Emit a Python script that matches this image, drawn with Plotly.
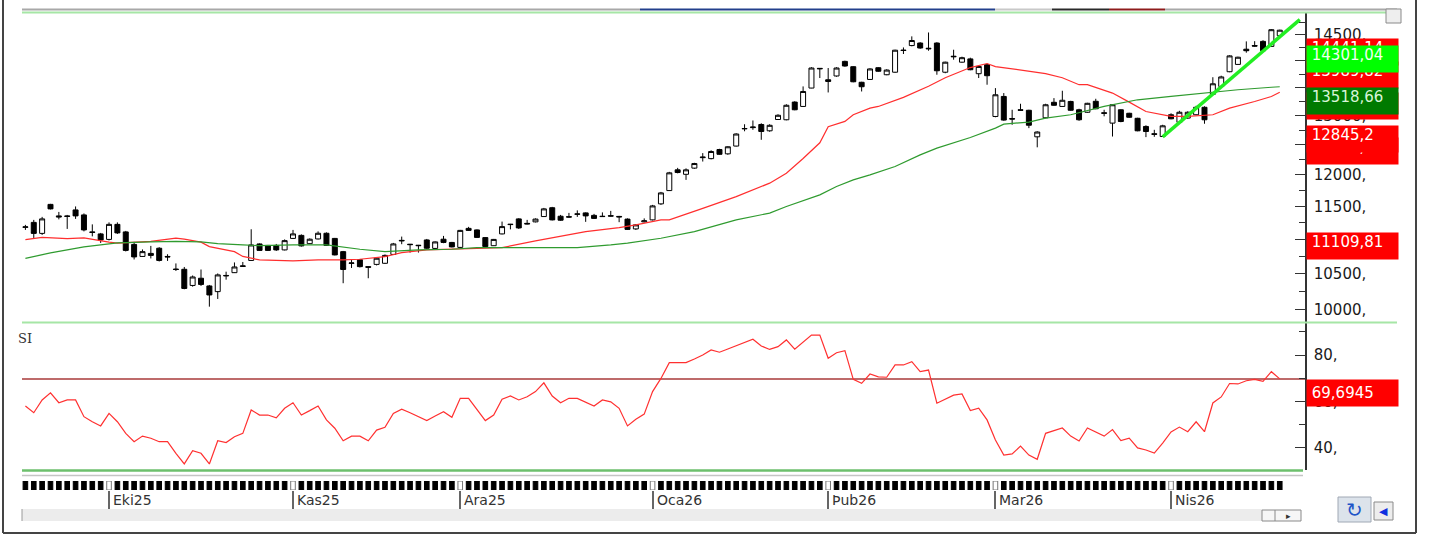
import math
import plotly.graph_objects as go

# ---------------- data ----------------
N = 151
days = list(range(N))

open_ = [11180, 11256, 11090, 11533, 11355, 11355, 11447, 11370, 11112, 11082,
         11000, 11226, 11112, 10926, 10750, 10794, 10870, 10750, 10569, 10565,
         10337, 10438, 10330, 10251, 10470, 10517, 10605, 10692, 10933, 10911,
         10911, 10845, 11015, 11060, 10937, 11007, 11092, 11015, 10820, 10649,
         10703, 10603, 10635, 10651, 10779, 10977, 10929, 10914, 10992, 10867,
         11003, 10955, 10882, 11165, 11142, 11027, 10907, 11082, 11229, 11309,
         11241, 11264, 11345, 11481, 11350, 11343, 11386, 11401, 11363, 11350,
         11358, 11347, 11306, 11157, 11264, 11294, 11541, 11750, 12084, 12011,
         12112, 12284, 12268, 12420, 12348, 12478, 12772, 12793, 12847, 12738,
         12934, 12929, 13242, 13164, 13495, 13859, 13647, 13717, 13990, 13890,
         13601, 13653, 13871, 13740, 13787, 14206, 14292, 14341, 14241, 14341,
         13787, 14088, 13975, 14037, 13759, 13927, 12987, 13343, 12950, 13105,
         13096, 12635, 12964, 13238, 13164, 13253, 13105, 13061, 13256, 13052,
         12871, 13105, 13043, 12955, 12813, 12687, 12640, 13017, 12886, 12959,
         13017, 13149, 13382, 13525, 13796, 13933, 14222, 14292, 14373, 14276,
         14484]
high = [11218, 11294, 11340, 11541, 11416, 11370, 11501, 11393, 11226, 11097,
        11256, 11256, 11127, 10963, 10852, 10904, 10885, 10782, 10649, 10598,
        10477, 10562, 10344, 10506, 10531, 10663, 10670, 11152, 10941, 10918,
        10933, 11000, 11142, 11075, 11015, 11120, 11105, 11022, 10830, 10699,
        10714, 10605, 10736, 10779, 10948, 11042, 10933, 10918, 11007, 10970,
        11052, 10963, 11142, 11188, 11150, 11030, 11007, 11268, 11233, 11320,
        11294, 11317, 11478, 11494, 11370, 11401, 11440, 11409, 11386, 11409,
        11432, 11355, 11317, 11226, 11317, 11525, 11729, 12051, 12116, 12108,
        12199, 12360, 12407, 12432, 12474, 12695, 12851, 12917, 12868, 12851,
        13026, 13203, 13256, 13525, 13880, 13865, 13865, 13880, 14003, 13899,
        13610, 13861, 13880, 13842, 14212, 14256, 14471, 14357, 14547, 14357,
        13984, 14212, 14079, 14060, 13908, 13946, 13494, 13404, 13105, 13212,
        13105, 12730, 13212, 13313, 13446, 13265, 13123, 13229, 13301, 13105,
        13203, 13114, 13052, 12964, 12833, 12755, 12842, 13043, 13087, 13078,
        13176, 13167, 13694, 13722, 14107, 14079, 14373, 14377, 14396, 14612,
        14602]
low = [11142, 11022, 11067, 11455, 11302, 11157, 11309, 11120, 11045, 10948,
       10985, 11082, 10823, 10706, 10743, 10721, 10677, 10685, 10541, 10284,
       10320, 10330, 10045, 10150, 10418, 10513, 10598, 10685, 10830, 10830,
       10830, 10838, 11007, 10894, 10933, 11000, 10904, 10765, 10368, 10584,
       10591, 10438, 10620, 10642, 10772, 10929, 10806, 10806, 10860, 10860,
       10944, 10882, 10874, 11127, 11022, 10889, 10904, 11075, 11150, 11157,
       11226, 11256, 11340, 11286, 11279, 11332, 11340, 11264, 11309, 11343,
       11347, 11259, 11142, 11142, 11256, 11286, 11525, 11745, 12027, 11921,
       12100, 12220, 12256, 12332, 12332, 12471, 12730, 12755, 12584, 12721,
       12929, 12920, 13096, 13158, 13492, 13679, 13415, 13703, 13890, 13601,
       13433, 13647, 13796, 13731, 13777, 14130, 14278, 14231, 14193, 13740,
       13768, 14022, 13965, 13824, 13679, 13556, 12973, 12912, 12842, 13087,
       12784, 12457, 12955, 13176, 13158, 13087, 12912, 13052, 13114, 12990,
       12640, 12886, 12964, 12730, 12630, 12635, 12635, 12938, 12877, 12946,
       13008, 12860, 13373, 13510, 13787, 13927, 14155, 14270, 14184, 14270,
       14474]
close = [11188, 11090, 11309, 11463, 11340, 11347, 11355, 11142, 11105, 10992,
         11226, 11097, 10838, 10743, 10820, 10765, 10692, 10743, 10562, 10295,
         10456, 10351, 10205, 10485, 10477, 10598, 10613, 10918, 10838, 10838,
         10845, 10982, 11082, 10904, 11003, 11092, 10911, 10772, 10562, 10656,
         10603, 10594, 10724, 10765, 10933, 10985, 10923, 10908, 10870, 10963,
         10955, 10889, 11135, 11135, 11030, 10894, 11000, 11192, 11223, 11172,
         11233, 11306, 11463, 11294, 11289, 11337, 11381, 11355, 11317, 11345,
         11352, 11340, 11150, 11218, 11279, 11509, 11713, 12035, 12040, 12084,
         12187, 12293, 12387, 12340, 12466, 12683, 12777, 12802, 12726, 12833,
         13008, 13185, 13105, 13433, 13865, 13852, 13616, 13865, 13903, 13610,
         13519, 13848, 13805, 13827, 14203, 14197, 14390, 14245, 14231, 13814,
         13975, 14079, 14060, 13833, 13895, 13722, 13373, 12924, 12942, 13096,
         12834, 12717, 13194, 13185, 13274, 13096, 12929, 13220, 13123, 13043,
         13194, 12899, 12973, 12738, 12726, 12678, 12824, 12946, 13061, 13061,
         13149, 12929, 13573, 13699, 14094, 14069, 14193, 14282, 14193, 14602,
         14592]

rsi = [58.0, 55.1, 60.6, 63.7, 59.4, 60.6, 60.6, 53.4, 51.2, 49.4,
       54.8, 51.2, 46.2, 42.6, 45.0, 44.1, 42.6, 42.6, 37.6, 33.0,
       38.7, 37.6, 33.0, 43.0, 42.2, 44.7, 46.2, 56.3, 54.1, 54.1,
       52.9, 57.0, 59.4, 54.1, 56.0, 58.0, 52.0, 48.4, 43.0, 45.0,
       45.0, 43.0, 47.6, 48.8, 54.8, 56.6, 55.1, 53.4, 51.7, 53.7,
       55.5, 53.1, 61.3, 61.3, 56.6, 51.7, 54.1, 60.9, 62.3, 60.6,
       62.0, 64.2, 68.0, 62.3, 59.4, 61.3, 61.3, 59.8, 58.0, 60.6,
       59.8, 57.0, 49.4, 52.3, 54.5, 64.2, 69.9, 76.7, 76.7, 76.7,
       78.3, 80.0, 82.2, 81.2, 82.6, 84.1, 85.6, 86.8, 83.9, 82.4,
       83.6, 86.5, 82.5, 85.6, 88.6, 88.6, 78.6, 81.0, 81.9, 69.5,
       67.8, 71.8, 70.6, 70.4, 75.7, 75.7, 77.1, 72.8, 73.5, 59.2,
       61.0, 62.7, 63.2, 56.0, 57.1, 52.0, 43.3, 36.8, 37.3, 40.7,
       36.8, 35.0, 46.2, 47.3, 48.5, 45.0, 42.9, 48.5, 46.9, 45.0,
       47.8, 43.1, 44.1, 39.9, 39.0, 37.7, 42.0, 46.8, 48.9, 46.9,
       51.2, 46.9, 59.3, 61.9, 67.7, 67.5, 68.9, 69.5, 68.6, 72.8,
       69.6945]

ma_red_idx = [0, 2, 5, 7, 10, 11, 15, 18, 19, 21, 22, 25, 26, 28, 32, 35, 38, 40, 43, 45,
              48, 50, 54, 57, 61, 66, 67, 71, 73, 76, 77, 81, 85, 89, 91, 93, 95, 96, 98, 99,
              101, 102, 105, 108, 110, 113, 115, 116, 120, 122, 124, 126, 127, 130, 132, 134,
              137, 139, 142, 144, 147, 149, 150]
ma_red_val = [10996, 11030, 11011, 11022, 10959, 10944, 10970, 11020, 11003, 10959,
              10894, 10820, 10750, 10699, 10685, 10699, 10699, 10709, 10747, 10806,
              10845, 10855, 10867, 10879, 10977, 11092, 11117, 11177, 11218, 11294,
              11294, 11472, 11655, 11868, 12030, 12270, 12533, 12808, 12900, 13017,
              13135, 13164, 13326, 13528, 13684, 13874, 13950, 13893, 13810, 13761,
              13684, 13556, 13556, 13404, 13241, 13075, 12990, 12990, 13017, 13135,
              13253, 13343, 13420]

ma_green_idx = [0, 3, 7, 11, 15, 18, 21, 23, 26, 28, 32, 36, 40, 43, 47, 51, 54, 58, 62, 66,
                70, 72, 76, 80, 85, 89, 91, 95, 97, 99, 101, 104, 107, 109, 113, 116, 117,
                120, 122, 125, 129, 133, 137, 141, 145, 149, 150]
ma_green_val = [10723, 10801, 10889, 10948, 10963, 10970, 10963, 10937, 10918, 10908,
                10918, 10918, 10855, 10820, 10845, 10855, 10879, 10879, 10879, 10879,
                10918, 10944, 11017, 11117, 11294, 11398, 11500, 11682, 11814, 11921,
                12003, 12138, 12331, 12443, 12623, 12784, 12854, 12889, 12959, 13017,
                13164, 13283, 13343, 13404, 13464, 13510, 13519]

levels = [14441.14, 13989.82, 12845.2, 12632.9, 11109.81]
trend_idx = [136, 152.4]
trend_val = [12632.9, 14801]

# right-hand value tags (value, text, background, text colour), drawn in this order
price_tags = [
    (12632.9, "12632,9", "#FF0000", "#FFFFFF"),
    (12845.2, "12845,2", "#FF0000", "#FFFFFF"),
    (14441.14, "14441,14", "#FF0000", "#FFFFFF"),
    (13989.82, "13989,82", "#FF0000", "#FFFFFF"),
    (13422.35, "13422,35", "#FF0000", "#FFFFFF"),
    (14301.04, "14301,04", "#00FF00", "#F2FFF2"),
    (13518.66, "13518,66", "#007A00", "#D8F5D8"),
    (11109.81, "11109,81", "#FF0000", "#FFFFFF"),
]
rsi_level = 69.6945
rsi_tag = "69,6945"

month_idx = [10, 32, 52, 75, 96, 116, 137]
month_lbl = ["Eki25", "Kas25", "Ara25", "Oca26", "Þub26", "Mar26", "Nis26"]

price_ticks = [10000, 10500, 11000, 11500, 12000, 12500, 13000, 13500, 14000, 14500, 15000]
price_minor = [10250, 10750, 11250, 11750, 12250, 12750, 13250, 13750, 14250, 14750]
rsi_ticks = [40, 60, 80]
rsi_minor = [50, 70, 90]

# ---------------- layout helpers (pixel -> paper) ----------------
W, H = 1432, 537
PL, PR, PT, PB = 22, 1305, 12, 490


def fx(px):
    return (px - PL) / (PR - PL)


def fy(py):
    return (PB - py) / (PB - PT)


xr = [-0.407, 153.02]
price_range = [math.log10(9839), math.log10(14955)]
rsi_range = [30.38, 93.81]
FONT = "DejaVu Sans"
NB = "\u00a0"

fig = go.Figure()

fig.add_trace(go.Scatter(x=ma_red_idx, y=ma_red_val, mode="lines",
                         line=dict(color="#FF2E2E", width=1.2), xaxis="x", yaxis="y"))
fig.add_trace(go.Scatter(x=ma_green_idx, y=ma_green_val, mode="lines",
                         line=dict(color="#2F9B2F", width=1.2), xaxis="x", yaxis="y"))
fig.add_trace(go.Candlestick(
    x=days, open=open_, high=high, low=low, close=close,
    increasing=dict(line=dict(color="black", width=1), fillcolor="white"),
    decreasing=dict(line=dict(color="black", width=1), fillcolor="black"),
    whiskerwidth=0, xaxis="x", yaxis="y"))
fig.add_trace(go.Scatter(x=trend_idx, y=trend_val, mode="lines",
                         line=dict(color="#22EE22", width=3.5), xaxis="x", yaxis="y"))
fig.add_trace(go.Scatter(x=days, y=rsi, mode="lines",
                         line=dict(color="#FF3030", width=1.2), xaxis="x2", yaxis="y2"))

strip_fill = ["white" if d in month_idx else "black" for d in days]
strip_line = ["#777777" if d in month_idx else "black" for d in days]
fig.add_trace(go.Bar(x=days, y=[1 for _ in days], width=0.55, xaxis="x3", yaxis="y3",
                     marker=dict(color=strip_fill, line=dict(color=strip_line, width=1))))

shapes = []
for lv in levels:
    shapes.append(dict(type="line", xref="x domain", yref="y", x0=0, x1=1,
                       y0=math.log10(lv), y1=math.log10(lv),
                       line=dict(color="#FF2A2A", width=1.5), layer="below"))
shapes.append(dict(type="line", xref="x2 domain", yref="y2", x0=0, x1=1,
                   y0=rsi_level, y1=rsi_level, line=dict(color="#A83A3A", width=1.5), layer="below"))


def pline(x0, y0, x1, y1, color, width):
    shapes.append(dict(type="line", xref="paper", yref="paper", x0=fx(x0), x1=fx(x1),
                       y0=fy(y0), y1=fy(y1), line=dict(color=color, width=width), layer="above"))


# toolbar remnants at the top
pline(22, 9.5, 640, 9.5, "#A8A8A8", 2)
pline(640, 9.5, 995, 9.5, "#23408C", 2)
pline(995, 9.5, 1052, 9.5, "#C8C8C8", 2)
pline(1052, 9.5, 1109, 9.5, "#2A2A2A", 2)
pline(1109, 9.5, 1165, 9.5, "#8E1C1C", 2)
pline(1165, 9.5, 1397, 9.5, "#A8A8A8", 2)
# panel borders
pline(22, 12.5, 1397, 12.5, "#A6E6A6", 2)
pline(22, 322.5, 1397, 322.5, "#A6E6A6", 2)
pline(22, 470.5, 1303, 470.5, "#6CBF6C", 2.5)
pline(22, 475.5, 1303, 475.5, "#C4C4C4", 1.5)
# outer frame
pline(3, 0, 3, 533, "#444444", 2)
pline(3, 533, 1416, 533, "#444444", 2)
pline(1416, 0, 1416, 533, "#444444", 2)

# scroll bar area and buttons
shapes.append(dict(type="rect", xref="paper", yref="paper", x0=fx(22), x1=fx(1262),
                   y0=fy(521), y1=fy(509), fillcolor="#ECECEC", line=dict(width=0)))
pline(22, 509, 22, 521, "#9A9A9A", 1)
shapes.append(dict(type="rect", xref="paper", yref="paper", x0=fx(1262), x1=fx(1301),
                   y0=fy(521), y1=fy(510), fillcolor="#F6F6F6", line=dict(color="#8A8A8A", width=1)))
pline(1275, 510, 1275, 521, "#8A8A8A", 1)
shapes.append(dict(type="rect", xref="paper", yref="paper", x0=fx(1338), x1=fx(1371),
                   y0=fy(522), y1=fy(497), fillcolor="#DCE3EB", line=dict(color="#A0A8B4", width=1)))
shapes.append(dict(type="rect", xref="paper", yref="paper", x0=fx(1374), x1=fx(1393),
                   y0=fy(520), y1=fy(502), fillcolor="#EDEDED", line=dict(color="#8A8A8A", width=1)))
shapes.append(dict(type="rect", xref="paper", yref="paper", x0=fx(1386), x1=fx(1401),
                   y0=fy(23), y1=fy(9), fillcolor="#EEEEEE", line=dict(color="#8A8A8A", width=1)))

annotations = []
BOX_X = fx(1306)
for val, txt, bg, fg in price_tags:
    annotations.append(dict(xref="paper", x=BOX_X, xanchor="left", yref="y", y=math.log10(val),
                            yanchor="top", text=NB + txt, showarrow=False, bgcolor=bg,
                            width=91, height=26, borderpad=0, align="left", valign="top",
                            font=dict(family=FONT, size=15, color=fg)))
annotations.append(dict(xref="paper", x=BOX_X, xanchor="left", yref="y2", y=rsi_level,
                        yanchor="top", text=NB + rsi_tag, showarrow=False, bgcolor="#FF0000",
                        width=91, height=26, borderpad=0, align="left", valign="middle",
                        font=dict(family=FONT, size=15, color="#FFFFFF")))
for mi, ml in zip(month_idx, month_lbl):
    annotations.append(dict(xref="x3", x=mi, xanchor="left", xshift=2, yref="paper", y=fy(499.5),
                            yanchor="middle", text=ml, showarrow=False,
                            font=dict(family=FONT, size=14, color="#333333")))
annotations.append(dict(xref="paper", x=fx(34), xanchor="right", yref="paper", y=fy(338),
                        yanchor="middle", text="SI", showarrow=False,
                        font=dict(family="DejaVu Serif", size=13, color="#333333")))
annotations.append(dict(xref="paper", x=fx(1354.5), xanchor="center", yref="paper", y=fy(509.5),
                        yanchor="middle", text="↻", showarrow=False,
                        font=dict(family=FONT, size=20, color="#1E55C8")))
annotations.append(dict(xref="paper", x=fx(1383.5), xanchor="center", yref="paper", y=fy(511),
                        yanchor="middle", text="◀", showarrow=False,
                        font=dict(family=FONT, size=11, color="#1030E0")))
annotations.append(dict(xref="paper", x=fx(1288), xanchor="center", yref="paper", y=fy(515.5),
                        yanchor="middle", text="▸", showarrow=False,
                        font=dict(family=FONT, size=9, color="#333333")))

axis_common = dict(showgrid=False, zeroline=False)
fig.update_layout(
    width=W, height=H,
    margin=dict(l=PL, r=W - PR, t=PT, b=H - PB, pad=0),
    paper_bgcolor="white", plot_bgcolor="white",
    showlegend=False, hovermode=False, boxgap=0.15,
    xaxis=dict(domain=[0, 1], range=xr, anchor="y", showticklabels=False, ticks="",
               showline=False, rangeslider=dict(visible=False), **axis_common),
    yaxis=dict(domain=[fy(322), 1], type="log", range=price_range, side="right", anchor="x",
               tickmode="array", tickvals=price_ticks, ticktext=[f"{v}," for v in price_ticks],
               ticks="inside", ticklen=10, tickwidth=1, tickcolor="#333333",
               minor=dict(tickmode="array", tickvals=price_minor, ticks="inside", ticklen=6,
                          tickwidth=1, tickcolor="#333333"),
               showline=True, linecolor="#333333", linewidth=1.5, ticklabelstandoff=4,
               tickfont=dict(family=FONT, size=15, color="#1A1A1A"), **axis_common),
    xaxis2=dict(domain=[0, 1], range=xr, anchor="y2", showticklabels=False, ticks="",
                showline=False, **axis_common),
    yaxis2=dict(domain=[fy(470), fy(323)], range=rsi_range, side="right", anchor="x2",
                tickmode="array", tickvals=rsi_ticks, ticktext=[f"{v}," for v in rsi_ticks],
                ticks="inside", ticklen=10, tickwidth=1, tickcolor="#333333",
                minor=dict(tickmode="array", tickvals=rsi_minor, ticks="inside", ticklen=6,
                           tickwidth=1, tickcolor="#333333"),
                showline=True, linecolor="#333333", linewidth=1.5, ticklabelstandoff=4,
                tickfont=dict(family=FONT, size=15, color="#1A1A1A"), **axis_common),
    xaxis3=dict(domain=[0, 1], range=xr, anchor="y3", tickmode="array", tickvals=month_idx,
                showticklabels=False, ticks="outside", ticklen=18, tickwidth=1.5,
                tickcolor="#666666", showline=False, **axis_common),
    yaxis3=dict(domain=[0, fy(481)], range=[0, 1], visible=False),
    shapes=shapes,
    annotations=annotations,
)

fig.write_html("out.html", config={"displayModeBar": False},
               post_script="document.body.style.margin='0px';")
